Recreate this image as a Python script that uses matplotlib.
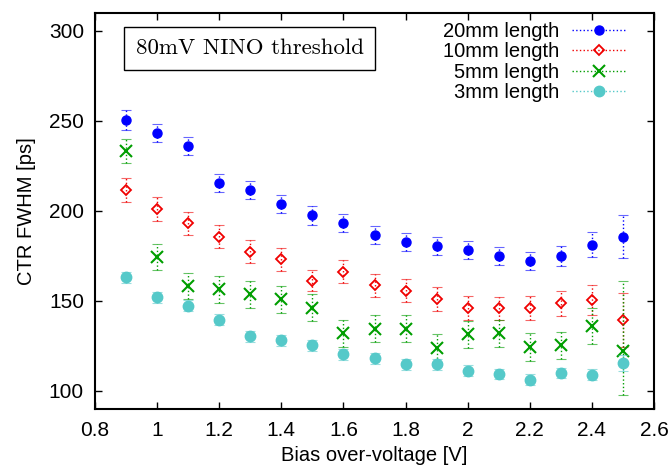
import matplotlib.pyplot as plt
from matplotlib.lines import Line2D

# Bias over-voltage [V]
bias = [0.9, 1.0, 1.1, 1.2, 1.3, 1.4, 1.5, 1.6, 1.7, 1.8, 1.9, 2.0, 2.1, 2.2, 2.3, 2.4, 2.5]

# CTR FWHM [ps] per crystal length
ctr_20mm = [250.4, 243.2, 236.0, 215.7, 211.5, 203.9, 197.4, 193.2, 186.5, 182.6, 180.2, 178.2, 174.8, 172.4, 175.0, 181.1, 185.7]
err_20mm = [5.5, 5.0, 5.0, 5.0, 5.0, 5.0, 5.0, 5.0, 5.0, 5.0, 5.0, 5.0, 5.0, 5.0, 5.5, 7.0, 12.0]

ctr_10mm = [211.5, 201.1, 193.0, 185.6, 177.4, 173.0, 161.3, 166.3, 158.7, 155.7, 151.0, 146.0, 145.8, 146.0, 148.7, 150.4, 139.6]
err_10mm = [6.5, 6.7, 6.5, 6.5, 6.5, 6.5, 6.0, 6.5, 6.5, 6.5, 6.5, 6.5, 6.5, 6.5, 7.0, 8.5, 15.0]

ctr_5mm = [233.3, 174.4, 158.2, 156.5, 153.7, 151.0, 146.3, 132.0, 134.6, 134.6, 123.7, 131.5, 131.9, 124.4, 125.4, 136.0, 122.0]
err_5mm_lo = [6.5, 7.0, 7.4, 7.5, 7.5, 7.5, 7.5, 7.5, 7.5, 7.5, 7.9, 7.5, 7.5, 7.5, 7.5, 10.0, 24.0]
err_5mm_hi = [6.5, 7.0, 7.4, 7.5, 7.5, 7.5, 7.5, 7.5, 7.5, 7.5, 7.9, 7.5, 7.5, 7.5, 7.5, 10.0, 39.0]

ctr_3mm = [163.0, 152.0, 147.4, 139.6, 130.4, 128.2, 125.4, 120.4, 118.2, 114.8, 114.8, 111.3, 109.4, 106.3, 110.0, 109.0, 115.4]
err_3mm = [3.0, 3.0, 3.0, 3.0, 3.0, 3.0, 3.0, 3.0, 3.0, 3.0, 3.0, 3.0, 3.0, 3.0, 3.0, 3.0, 4.5]

labels = ['20mm length', '10mm length', '5mm length', '3mm length']

plt.rcParams['font.family'] = ['Liberation Sans', 'DejaVu Sans']

fig = plt.figure(figsize=(6.71, 4.69), dpi=100)
ax = fig.add_axes([0.1416, 0.128, 0.8331, 0.845])

series = [
    (ctr_20mm, err_20mm, '#0000ff', dict(marker='o', markersize=6.5)),
    (ctr_10mm, err_10mm, '#f00000', dict(marker='D', markersize=5.5, markerfacecolor='none', markeredgewidth=1.3)),
    (ctr_5mm, [err_5mm_lo, err_5mm_hi], '#009e00', dict(marker='x', markersize=8.5, markeredgewidth=1.5)),
    (ctr_3mm, err_3mm, '#55c9c9', dict(marker='o', markersize=7.5)),
]

handles = []
for (vals, err, color, mstyle), lab in zip(series, labels):
    _, caps, bars = ax.errorbar(bias, vals, yerr=err, fmt='none', ecolor=color,
                                elinewidth=1.0, capsize=3.5, capthick=0.8)
    for b in bars:
        b.set_linestyle(':')
    for c in caps:
        c.set_alpha(0.6)
    ax.plot(bias, vals, linestyle='none', color=color, **mstyle)
    handles.append(Line2D([], [], color=color, linestyle=':', linewidth=1.0, **mstyle))

ax.set_xlim(0.8, 2.6)
ax.set_ylim(90, 310)
ax.set_xticks([0.8, 1.0, 1.2, 1.4, 1.6, 1.8, 2.0, 2.2, 2.4, 2.6])
ax.set_xticklabels(['0.8', '1', '1.2', '1.4', '1.6', '1.8', '2', '2.2', '2.4', '2.6'])
ax.set_yticks([100, 150, 200, 250, 300])
ax.tick_params(direction='in', length=5, width=1.0, labelsize=15, top=True, right=True)
ax.tick_params(axis='x', pad=9)
ax.tick_params(axis='y', pad=8)
for s in ax.spines.values():
    s.set_linewidth(1.5)

ax.set_xlabel('Bias over-voltage [V]', fontsize=14.5, labelpad=4)
ax.set_ylabel('CTR FWHM [ps]', fontsize=14.5, labelpad=9)

ax.text(0.277, 0.91, '80mV NINO threshold', transform=ax.transAxes, ha='center', va='center',
        fontsize=16.5, family='cmr10',
        bbox=dict(boxstyle='square,pad=0.5', facecolor='white', edgecolor='black', linewidth=1.0))

ax.legend(handles, labels, loc='upper right', markerfirst=False, frameon=False, fontsize=14.5,
          handlelength=2.7, handletextpad=0.65, labelspacing=0.07, borderaxespad=0.3,
          bbox_to_anchor=(0.976, 1.012))

fig.savefig('out.png', dpi=100)
